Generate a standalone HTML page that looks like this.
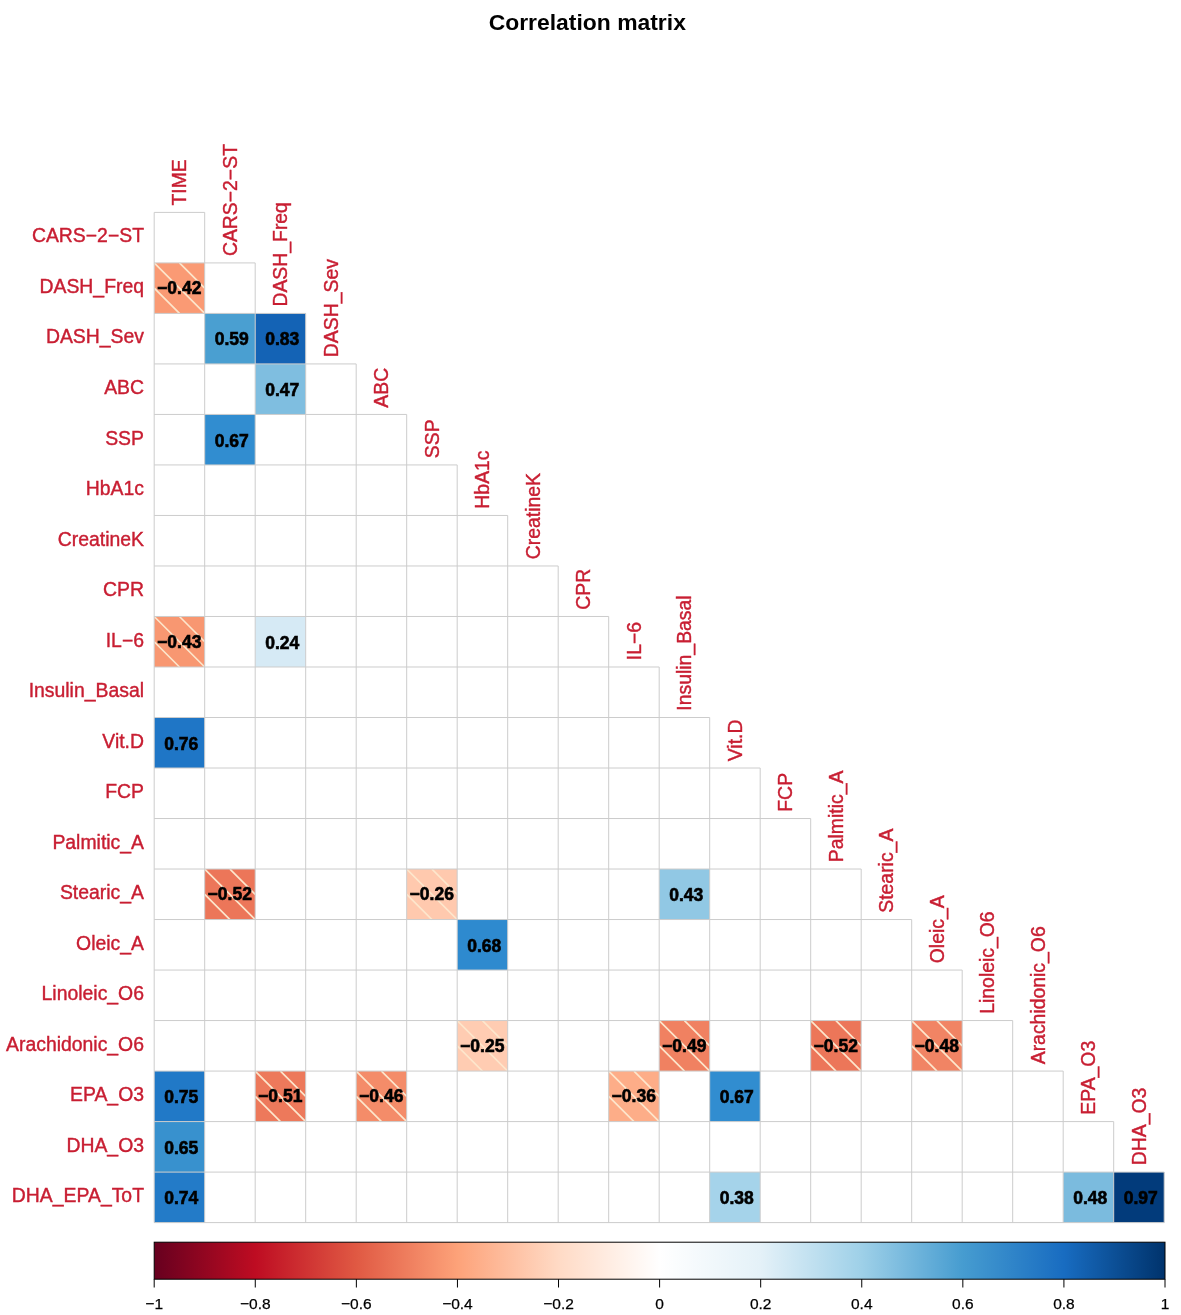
<!DOCTYPE html><html><head><meta charset="utf-8"><title>Correlation matrix</title><style>html,body{margin:0;padding:0;background:#fff}svg{display:block;filter:blur(0.45px)}</style></head><body><svg width="1181" height="1315" viewBox="0 0 1181 1315" font-family="&quot;Liberation Sans&quot;, sans-serif">
<defs><linearGradient id="cb" x1="0" x2="1" y1="0" y2="0"><stop offset="0%" stop-color="#67001f"/><stop offset="10%" stop-color="#be0c22"/><stop offset="20%" stop-color="#e05943"/><stop offset="30%" stop-color="#fda279"/><stop offset="40%" stop-color="#ffdac5"/><stop offset="50%" stop-color="#ffffff"/><stop offset="60%" stop-color="#e4f1f8"/><stop offset="70%" stop-color="#9ed0e8"/><stop offset="80%" stop-color="#469cd0"/><stop offset="90%" stop-color="#186cc1"/><stop offset="100%" stop-color="#00336c"/></linearGradient></defs>
<rect width="1181" height="1315" fill="#fff"/>
<text x="587.3" y="30" text-anchor="middle" font-weight="bold" font-size="22.9" fill="#000">Correlation matrix</text>
<rect x="154.20" y="262.91" width="50.50" height="50.51" fill="#fa9a74"/>
<path d="M154.20 262.91L204.70 313.42M179.45 262.91L204.70 288.17M154.20 288.17L179.45 313.42" stroke="#fde6cc" stroke-width="1.7" fill="none"/>
<rect x="204.70" y="313.42" width="50.50" height="50.51" fill="#4a9fd1"/>
<rect x="255.20" y="313.42" width="50.50" height="50.51" fill="#1463b5"/>
<rect x="255.20" y="363.93" width="50.50" height="50.51" fill="#7fbee0"/>
<rect x="204.70" y="414.44" width="50.50" height="50.51" fill="#318dd0"/>
<rect x="154.20" y="616.48" width="50.50" height="50.51" fill="#f89771"/>
<path d="M154.20 616.48L204.70 666.99M179.45 616.48L204.70 641.74M154.20 641.74L179.45 666.99" stroke="#fde6cc" stroke-width="1.7" fill="none"/>
<rect x="255.20" y="616.48" width="50.50" height="50.51" fill="#d6eaf5"/>
<rect x="154.20" y="717.50" width="50.50" height="50.51" fill="#1f76c6"/>
<rect x="204.70" y="869.03" width="50.50" height="50.51" fill="#ec7659"/>
<path d="M204.70 869.03L255.20 919.54M229.95 869.03L255.20 894.28M204.70 894.28L229.95 919.54" stroke="#fde6cc" stroke-width="1.7" fill="none"/>
<rect x="406.70" y="869.03" width="50.50" height="50.51" fill="#ffc9ae"/>
<path d="M406.70 869.03L457.20 919.54M431.95 869.03L457.20 894.28M406.70 894.28L431.95 919.54" stroke="#fde6cc" stroke-width="1.7" fill="none"/>
<rect x="659.20" y="869.03" width="50.50" height="50.51" fill="#91c8e4"/>
<rect x="457.20" y="919.54" width="50.50" height="50.51" fill="#2e8acf"/>
<rect x="457.20" y="1020.56" width="50.50" height="50.51" fill="#ffccb2"/>
<path d="M457.20 1020.56L507.70 1071.07M482.45 1020.56L507.70 1045.82M457.20 1045.82L482.45 1071.07" stroke="#fde6cc" stroke-width="1.7" fill="none"/>
<rect x="659.20" y="1020.56" width="50.50" height="50.51" fill="#f08161"/>
<path d="M659.20 1020.56L709.70 1071.07M684.45 1020.56L709.70 1045.82M659.20 1045.82L684.45 1071.07" stroke="#fde6cc" stroke-width="1.7" fill="none"/>
<rect x="810.70" y="1020.56" width="50.50" height="50.51" fill="#ec7659"/>
<path d="M810.70 1020.56L861.20 1071.07M835.95 1020.56L861.20 1045.82M810.70 1045.82L835.95 1071.07" stroke="#fde6cc" stroke-width="1.7" fill="none"/>
<rect x="911.70" y="1020.56" width="50.50" height="50.51" fill="#f18464"/>
<path d="M911.70 1020.56L962.20 1071.07M936.95 1020.56L962.20 1045.82M911.70 1045.82L936.95 1071.07" stroke="#fde6cc" stroke-width="1.7" fill="none"/>
<rect x="154.20" y="1071.07" width="50.50" height="50.51" fill="#2179c7"/>
<rect x="255.20" y="1071.07" width="50.50" height="50.51" fill="#ed795b"/>
<path d="M255.20 1071.07L305.70 1121.58M280.45 1071.07L305.70 1096.33M255.20 1096.33L280.45 1121.58" stroke="#fde6cc" stroke-width="1.7" fill="none"/>
<rect x="356.20" y="1071.07" width="50.50" height="50.51" fill="#f48c69"/>
<path d="M356.20 1071.07L406.70 1121.58M381.45 1071.07L406.70 1096.33M356.20 1096.33L381.45 1121.58" stroke="#fde6cc" stroke-width="1.7" fill="none"/>
<rect x="608.70" y="1071.07" width="50.50" height="50.51" fill="#fdad88"/>
<path d="M608.70 1071.07L659.20 1121.58M633.95 1071.07L659.20 1096.33M608.70 1096.33L633.95 1121.58" stroke="#fde6cc" stroke-width="1.7" fill="none"/>
<rect x="709.70" y="1071.07" width="50.50" height="50.51" fill="#318dd0"/>
<rect x="154.20" y="1121.58" width="50.50" height="50.51" fill="#3891ce"/>
<rect x="154.20" y="1172.09" width="50.50" height="50.51" fill="#237bc8"/>
<rect x="709.70" y="1172.09" width="50.50" height="50.51" fill="#a5d3ea"/>
<rect x="1063.20" y="1172.09" width="50.50" height="50.51" fill="#7bbbde"/>
<rect x="1113.70" y="1172.09" width="50.50" height="50.51" fill="#023b7b"/>
<path d="M154.20 212.40H204.70M154.20 262.91H255.20M154.20 313.42H305.70M154.20 363.93H356.20M154.20 414.44H406.70M154.20 464.95H457.20M154.20 515.46H507.70M154.20 565.97H558.20M154.20 616.48H608.70M154.20 666.99H659.20M154.20 717.50H709.70M154.20 768.01H760.20M154.20 818.52H810.70M154.20 869.03H861.20M154.20 919.54H911.70M154.20 970.05H962.20M154.20 1020.56H1012.70M154.20 1071.07H1063.20M154.20 1121.58H1113.70M154.20 1172.09H1164.20M154.20 1222.60H1164.20M154.20 212.40V1222.60M204.70 212.40V1222.60M255.20 262.91V1222.60M305.70 313.42V1222.60M356.20 363.93V1222.60M406.70 414.44V1222.60M457.20 464.95V1222.60M507.70 515.46V1222.60M558.20 565.97V1222.60M608.70 616.48V1222.60M659.20 666.99V1222.60M709.70 717.50V1222.60M760.20 768.01V1222.60M810.70 818.52V1222.60M861.20 869.03V1222.60M911.70 919.54V1222.60M962.20 970.05V1222.60M1012.70 1020.56V1222.60M1063.20 1071.07V1222.60M1113.70 1121.58V1222.60M1164.20 1172.09V1222.60" stroke="#cccccc" stroke-width="1" fill="none"/>
<text x="179.25" y="294.27" text-anchor="middle" font-weight="bold" font-size="17.5" fill="#000" stroke="#000" stroke-width="0.6">−0.42</text>
<text x="231.75" y="345.48" text-anchor="middle" font-weight="bold" font-size="17.5" fill="#000" stroke="#000" stroke-width="0.6">0.59</text>
<text x="282.25" y="345.48" text-anchor="middle" font-weight="bold" font-size="17.5" fill="#000" stroke="#000" stroke-width="0.6">0.83</text>
<text x="282.25" y="395.99" text-anchor="middle" font-weight="bold" font-size="17.5" fill="#000" stroke="#000" stroke-width="0.6">0.47</text>
<text x="231.75" y="446.50" text-anchor="middle" font-weight="bold" font-size="17.5" fill="#000" stroke="#000" stroke-width="0.6">0.67</text>
<text x="179.25" y="647.84" text-anchor="middle" font-weight="bold" font-size="17.5" fill="#000" stroke="#000" stroke-width="0.6">−0.43</text>
<text x="282.25" y="648.53" text-anchor="middle" font-weight="bold" font-size="17.5" fill="#000" stroke="#000" stroke-width="0.6">0.24</text>
<text x="181.25" y="749.55" text-anchor="middle" font-weight="bold" font-size="17.5" fill="#000" stroke="#000" stroke-width="0.6">0.76</text>
<text x="229.75" y="900.38" text-anchor="middle" font-weight="bold" font-size="17.5" fill="#000" stroke="#000" stroke-width="0.6">−0.52</text>
<text x="431.75" y="900.38" text-anchor="middle" font-weight="bold" font-size="17.5" fill="#000" stroke="#000" stroke-width="0.6">−0.26</text>
<text x="686.25" y="901.08" text-anchor="middle" font-weight="bold" font-size="17.5" fill="#000" stroke="#000" stroke-width="0.6">0.43</text>
<text x="484.25" y="951.59" text-anchor="middle" font-weight="bold" font-size="17.5" fill="#000" stroke="#000" stroke-width="0.6">0.68</text>
<text x="482.25" y="1051.91" text-anchor="middle" font-weight="bold" font-size="17.5" fill="#000" stroke="#000" stroke-width="0.6">−0.25</text>
<text x="684.25" y="1051.91" text-anchor="middle" font-weight="bold" font-size="17.5" fill="#000" stroke="#000" stroke-width="0.6">−0.49</text>
<text x="835.75" y="1051.91" text-anchor="middle" font-weight="bold" font-size="17.5" fill="#000" stroke="#000" stroke-width="0.6">−0.52</text>
<text x="936.75" y="1051.91" text-anchor="middle" font-weight="bold" font-size="17.5" fill="#000" stroke="#000" stroke-width="0.6">−0.48</text>
<text x="181.25" y="1103.12" text-anchor="middle" font-weight="bold" font-size="17.5" fill="#000" stroke="#000" stroke-width="0.6">0.75</text>
<text x="280.25" y="1102.42" text-anchor="middle" font-weight="bold" font-size="17.5" fill="#000" stroke="#000" stroke-width="0.6">−0.51</text>
<text x="381.25" y="1102.42" text-anchor="middle" font-weight="bold" font-size="17.5" fill="#000" stroke="#000" stroke-width="0.6">−0.46</text>
<text x="633.75" y="1102.42" text-anchor="middle" font-weight="bold" font-size="17.5" fill="#000" stroke="#000" stroke-width="0.6">−0.36</text>
<text x="736.75" y="1103.12" text-anchor="middle" font-weight="bold" font-size="17.5" fill="#000" stroke="#000" stroke-width="0.6">0.67</text>
<text x="181.25" y="1153.63" text-anchor="middle" font-weight="bold" font-size="17.5" fill="#000" stroke="#000" stroke-width="0.6">0.65</text>
<text x="181.25" y="1204.14" text-anchor="middle" font-weight="bold" font-size="17.5" fill="#000" stroke="#000" stroke-width="0.6">0.74</text>
<text x="736.75" y="1204.14" text-anchor="middle" font-weight="bold" font-size="17.5" fill="#000" stroke="#000" stroke-width="0.6">0.38</text>
<text x="1090.25" y="1204.14" text-anchor="middle" font-weight="bold" font-size="17.5" fill="#000" stroke="#000" stroke-width="0.6">0.48</text>
<text x="1140.75" y="1204.14" text-anchor="middle" font-weight="bold" font-size="17.5" fill="#000" stroke="#000" stroke-width="0.6">0.97</text>
<text x="144" y="242.46" text-anchor="end" font-size="19.4" fill="#c81e32" stroke="#c81e32" stroke-width="0.4">CARS−2−ST</text>
<text x="144" y="292.97" text-anchor="end" font-size="19.4" fill="#c81e32" stroke="#c81e32" stroke-width="0.4">DASH_Freq</text>
<text x="144" y="343.48" text-anchor="end" font-size="19.4" fill="#c81e32" stroke="#c81e32" stroke-width="0.4">DASH_Sev</text>
<text x="144" y="393.99" text-anchor="end" font-size="19.4" fill="#c81e32" stroke="#c81e32" stroke-width="0.4">ABC</text>
<text x="144" y="444.50" text-anchor="end" font-size="19.4" fill="#c81e32" stroke="#c81e32" stroke-width="0.4">SSP</text>
<text x="144" y="495.01" text-anchor="end" font-size="19.4" fill="#c81e32" stroke="#c81e32" stroke-width="0.4">HbA1c</text>
<text x="144" y="545.51" text-anchor="end" font-size="19.4" fill="#c81e32" stroke="#c81e32" stroke-width="0.4">CreatineK</text>
<text x="144" y="596.02" text-anchor="end" font-size="19.4" fill="#c81e32" stroke="#c81e32" stroke-width="0.4">CPR</text>
<text x="144" y="646.53" text-anchor="end" font-size="19.4" fill="#c81e32" stroke="#c81e32" stroke-width="0.4">IL−6</text>
<text x="144" y="697.04" text-anchor="end" font-size="19.4" fill="#c81e32" stroke="#c81e32" stroke-width="0.4">Insulin_Basal</text>
<text x="144" y="747.55" text-anchor="end" font-size="19.4" fill="#c81e32" stroke="#c81e32" stroke-width="0.4">Vit.D</text>
<text x="144" y="798.06" text-anchor="end" font-size="19.4" fill="#c81e32" stroke="#c81e32" stroke-width="0.4">FCP</text>
<text x="144" y="848.57" text-anchor="end" font-size="19.4" fill="#c81e32" stroke="#c81e32" stroke-width="0.4">Palmitic_A</text>
<text x="144" y="899.08" text-anchor="end" font-size="19.4" fill="#c81e32" stroke="#c81e32" stroke-width="0.4">Stearic_A</text>
<text x="144" y="949.59" text-anchor="end" font-size="19.4" fill="#c81e32" stroke="#c81e32" stroke-width="0.4">Oleic_A</text>
<text x="144" y="1000.10" text-anchor="end" font-size="19.4" fill="#c81e32" stroke="#c81e32" stroke-width="0.4">Linoleic_O6</text>
<text x="144" y="1050.62" text-anchor="end" font-size="19.4" fill="#c81e32" stroke="#c81e32" stroke-width="0.4">Arachidonic_O6</text>
<text x="144" y="1101.12" text-anchor="end" font-size="19.4" fill="#c81e32" stroke="#c81e32" stroke-width="0.4">EPA_O3</text>
<text x="144" y="1151.63" text-anchor="end" font-size="19.4" fill="#c81e32" stroke="#c81e32" stroke-width="0.4">DHA_O3</text>
<text x="144" y="1202.14" text-anchor="end" font-size="19.4" fill="#c81e32" stroke="#c81e32" stroke-width="0.4">DHA_EPA_ToT</text>
<text transform="translate(186.25 205.60) rotate(-90)" font-size="19.4" fill="#c81e32" stroke="#c81e32" stroke-width="0.4">TIME</text>
<text transform="translate(236.75 256.11) rotate(-90)" font-size="19.4" fill="#c81e32" stroke="#c81e32" stroke-width="0.4">CARS−2−ST</text>
<text transform="translate(287.25 306.62) rotate(-90)" font-size="19.4" fill="#c81e32" stroke="#c81e32" stroke-width="0.4">DASH_Freq</text>
<text transform="translate(337.75 357.13) rotate(-90)" font-size="19.4" fill="#c81e32" stroke="#c81e32" stroke-width="0.4">DASH_Sev</text>
<text transform="translate(388.25 407.64) rotate(-90)" font-size="19.4" fill="#c81e32" stroke="#c81e32" stroke-width="0.4">ABC</text>
<text transform="translate(438.75 458.15) rotate(-90)" font-size="19.4" fill="#c81e32" stroke="#c81e32" stroke-width="0.4">SSP</text>
<text transform="translate(489.25 508.66) rotate(-90)" font-size="19.4" fill="#c81e32" stroke="#c81e32" stroke-width="0.4">HbA1c</text>
<text transform="translate(539.75 559.17) rotate(-90)" font-size="19.4" fill="#c81e32" stroke="#c81e32" stroke-width="0.4">CreatineK</text>
<text transform="translate(590.25 609.68) rotate(-90)" font-size="19.4" fill="#c81e32" stroke="#c81e32" stroke-width="0.4">CPR</text>
<text transform="translate(640.75 660.19) rotate(-90)" font-size="19.4" fill="#c81e32" stroke="#c81e32" stroke-width="0.4">IL−6</text>
<text transform="translate(691.25 710.70) rotate(-90)" font-size="19.4" fill="#c81e32" stroke="#c81e32" stroke-width="0.4">Insulin_Basal</text>
<text transform="translate(741.75 761.21) rotate(-90)" font-size="19.4" fill="#c81e32" stroke="#c81e32" stroke-width="0.4">Vit.D</text>
<text transform="translate(792.25 811.72) rotate(-90)" font-size="19.4" fill="#c81e32" stroke="#c81e32" stroke-width="0.4">FCP</text>
<text transform="translate(842.75 862.23) rotate(-90)" font-size="19.4" fill="#c81e32" stroke="#c81e32" stroke-width="0.4">Palmitic_A</text>
<text transform="translate(893.25 912.74) rotate(-90)" font-size="19.4" fill="#c81e32" stroke="#c81e32" stroke-width="0.4">Stearic_A</text>
<text transform="translate(943.75 963.25) rotate(-90)" font-size="19.4" fill="#c81e32" stroke="#c81e32" stroke-width="0.4">Oleic_A</text>
<text transform="translate(994.25 1013.76) rotate(-90)" font-size="19.4" fill="#c81e32" stroke="#c81e32" stroke-width="0.4">Linoleic_O6</text>
<text transform="translate(1044.75 1064.27) rotate(-90)" font-size="19.4" fill="#c81e32" stroke="#c81e32" stroke-width="0.4">Arachidonic_O6</text>
<text transform="translate(1095.25 1114.78) rotate(-90)" font-size="19.4" fill="#c81e32" stroke="#c81e32" stroke-width="0.4">EPA_O3</text>
<text transform="translate(1145.75 1165.29) rotate(-90)" font-size="19.4" fill="#c81e32" stroke="#c81e32" stroke-width="0.4">DHA_O3</text>
<rect x="154.20" y="1242.2" width="1010.80" height="37.0" fill="url(#cb)" stroke="#000" stroke-width="1"/>
<path d="M154.20 1279.2V1287.5" stroke="#000" stroke-width="1"/>
<text x="154.20" y="1308.5" text-anchor="middle" font-size="15.5" fill="#000" stroke="#000" stroke-width="0.25">−1</text>
<path d="M255.28 1279.2V1287.5" stroke="#000" stroke-width="1"/>
<text x="255.28" y="1308.5" text-anchor="middle" font-size="15.5" fill="#000" stroke="#000" stroke-width="0.25">−0.8</text>
<path d="M356.36 1279.2V1287.5" stroke="#000" stroke-width="1"/>
<text x="356.36" y="1308.5" text-anchor="middle" font-size="15.5" fill="#000" stroke="#000" stroke-width="0.25">−0.6</text>
<path d="M457.44 1279.2V1287.5" stroke="#000" stroke-width="1"/>
<text x="457.44" y="1308.5" text-anchor="middle" font-size="15.5" fill="#000" stroke="#000" stroke-width="0.25">−0.4</text>
<path d="M558.52 1279.2V1287.5" stroke="#000" stroke-width="1"/>
<text x="558.52" y="1308.5" text-anchor="middle" font-size="15.5" fill="#000" stroke="#000" stroke-width="0.25">−0.2</text>
<path d="M659.60 1279.2V1287.5" stroke="#000" stroke-width="1"/>
<text x="659.60" y="1308.5" text-anchor="middle" font-size="15.5" fill="#000" stroke="#000" stroke-width="0.25">0</text>
<path d="M760.68 1279.2V1287.5" stroke="#000" stroke-width="1"/>
<text x="760.68" y="1308.5" text-anchor="middle" font-size="15.5" fill="#000" stroke="#000" stroke-width="0.25">0.2</text>
<path d="M861.76 1279.2V1287.5" stroke="#000" stroke-width="1"/>
<text x="861.76" y="1308.5" text-anchor="middle" font-size="15.5" fill="#000" stroke="#000" stroke-width="0.25">0.4</text>
<path d="M962.84 1279.2V1287.5" stroke="#000" stroke-width="1"/>
<text x="962.84" y="1308.5" text-anchor="middle" font-size="15.5" fill="#000" stroke="#000" stroke-width="0.25">0.6</text>
<path d="M1063.92 1279.2V1287.5" stroke="#000" stroke-width="1"/>
<text x="1063.92" y="1308.5" text-anchor="middle" font-size="15.5" fill="#000" stroke="#000" stroke-width="0.25">0.8</text>
<path d="M1165.00 1279.2V1287.5" stroke="#000" stroke-width="1"/>
<text x="1165.00" y="1308.5" text-anchor="middle" font-size="15.5" fill="#000" stroke="#000" stroke-width="0.25">1</text>
</svg></body></html>
